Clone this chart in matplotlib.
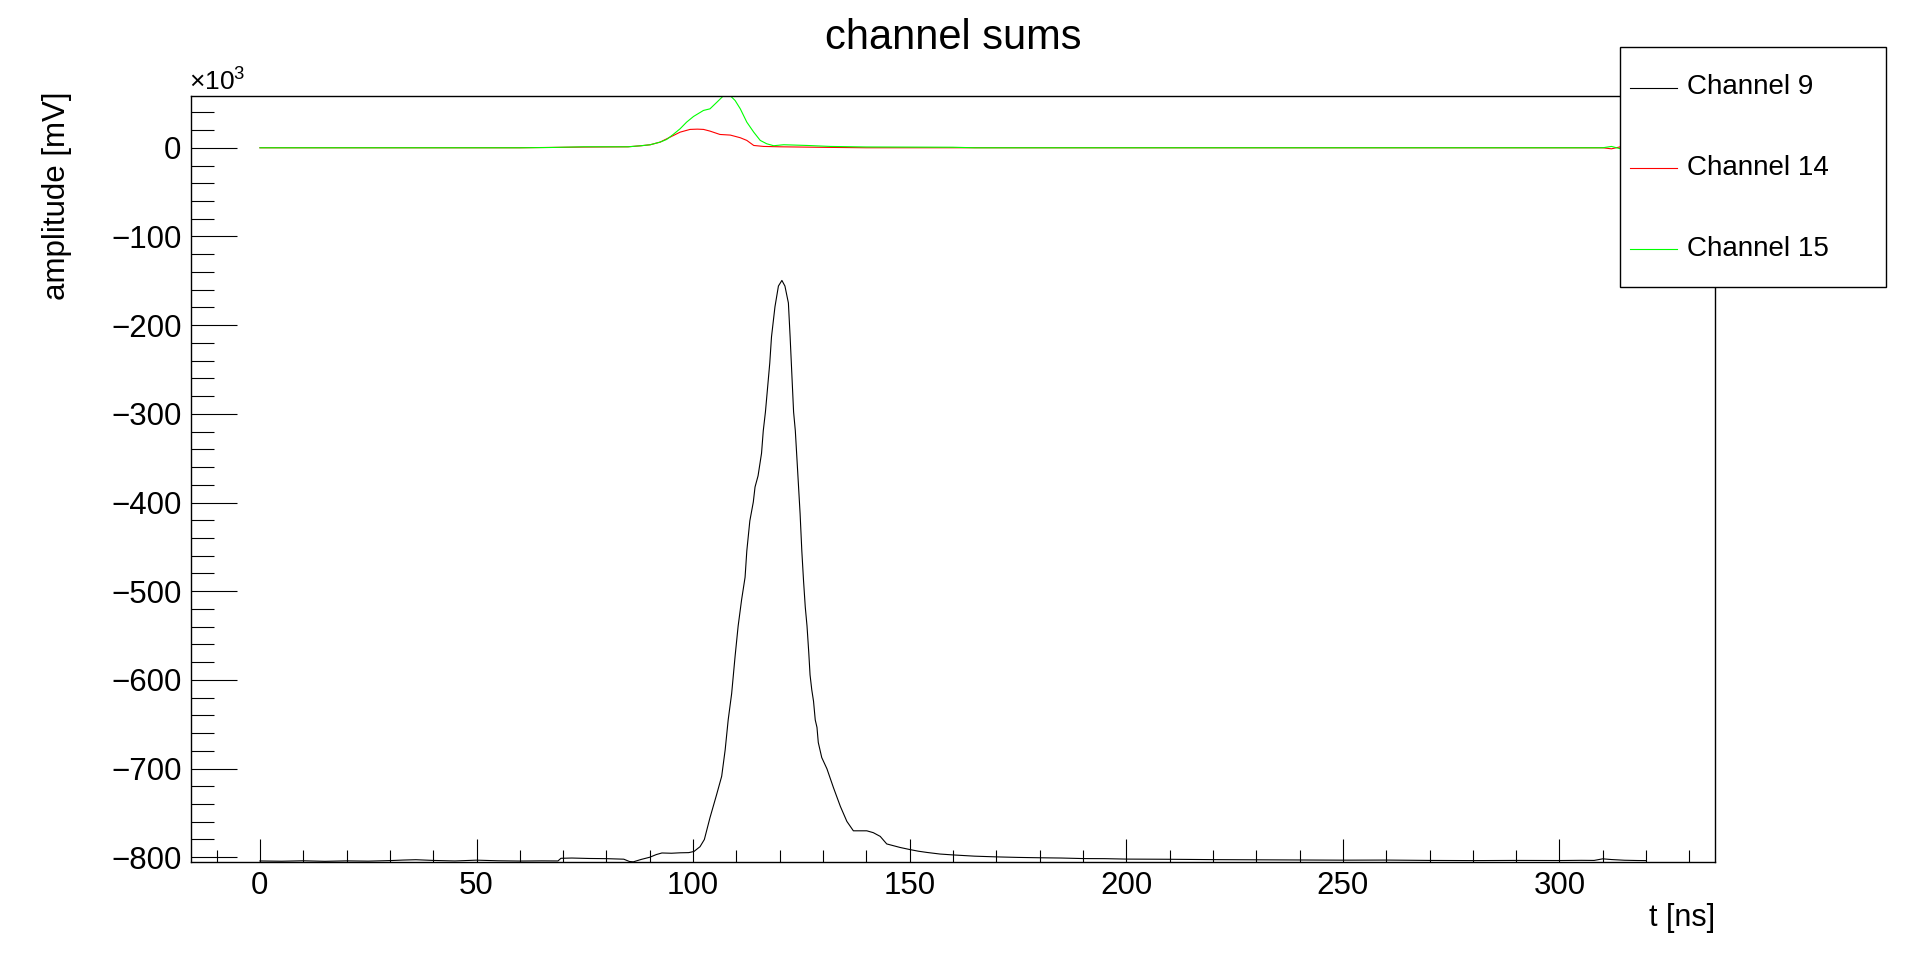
import matplotlib
matplotlib.use('Agg')
import matplotlib.pyplot as plt
from matplotlib.lines import Line2D
from matplotlib.patches import Rectangle
from matplotlib.ticker import MultipleLocator

plt.rcParams['font.family'] = ['Liberation Sans', 'DejaVu Sans']
plt.rcParams['mathtext.fontset'] = 'custom'
plt.rcParams['mathtext.rm'] = 'Liberation Sans'

# amplitudes in units of 10^3 mV
ch9_t = [0, 5, 10, 15, 20, 25, 30, 33, 36, 40, 45, 50, 55, 60, 65, 68.8, 69.5, 72, 76, 80, 84,
         85.3, 86.2, 88, 90, 91.5, 92.8, 95, 97, 99, 100.2, 101.6, 102.6, 103.9, 105.4, 106.6,
         107.4, 108.1, 108.9, 109.7, 110.4, 111.2, 112.0, 112.4, 113.1, 113.9, 114.3, 115.0,
         115.8, 116.2, 116.7, 117.7, 118.1, 118.9, 119.7, 120.5, 121.2, 122.0, 122.4, 122.8,
         123.2, 123.6, 124.0, 124.3, 124.7, 125.1, 125.5, 125.9, 126.3, 126.7, 127.0, 127.4,
         127.8, 128.2, 128.6, 128.9, 129.7, 130.9, 132.4, 134.0, 135.5, 137.0, 140.1, 141.6,
         143.2, 144.7, 147.8, 150, 152, 154, 157, 160, 165, 170, 175, 180, 185, 190, 195, 200,
         210, 220, 230, 240, 250, 260, 270, 280, 290, 300, 305, 308, 310, 312, 315, 318, 320]
ch9_v = [-804.2, -804.5, -804.0, -804.6, -804.1, -804.4, -803.8, -803.2, -802.8, -803.6, -804.2,
         -803.3, -804.0, -804.3, -804.1, -804.2, -801.2, -800.9, -801.4, -801.6, -802.2,
         -804.8, -805.2, -802.5, -800.0, -797.0, -795.2, -795.5, -795.0, -794.8, -793.5,
         -788.1, -780.0, -755.4, -729.9, -708.7, -679.1, -645.2, -615.5, -573.2, -539.3,
         -509.6, -484.3, -454.6, -420.7, -399.5, -382.5, -369.9, -344.5, -319.1, -297.9,
         -242.8, -213.2, -179.3, -155.9, -149.6, -155.9, -175.0, -213.2, -255.6, -297.9,
         -319.1, -352.9, -378.4, -412.3, -454.6, -488.5, -518.1, -539.3, -569.0, -594.4,
         -611.3, -624.0, -645.2, -653.6, -670.6, -687.6, -700.3, -721.5, -742.7, -759.6,
         -770.2, -770.2, -772.3, -776.5, -785.0, -789.0, -791.3, -793.2, -794.6, -796.4,
         -797.4, -798.8, -799.6, -800.2, -800.6, -800.9, -801.5, -801.6, -802.1, -802.3,
         -802.7, -802.9, -803.1, -803.3, -803.2, -803.6, -803.8, -803.6, -803.7, -803.5,
         -803.6, -801.8, -802.6, -803.4, -803.7, -803.8]

ch14_t = [0, 60, 74.8, 85, 88, 90.1, 92.4, 94.7, 97.0, 99.3, 101, 102.4, 103.9, 106.2, 108.6,
          110.9, 112.4, 114.0, 116.3, 120, 130, 140, 310, 312, 314, 320]
ch14_v = [0, 0, 0.8, 1.1, 2.3, 3.4, 6.4, 12.0, 17.6, 20.7, 21.0, 20.7, 18.8, 15.0, 14.3,
          11.3, 8.3, 2.6, 1.5, 1.1, 0.5, 0, 0, -1.2, 1.0, 0]

ch15_t = [0, 60, 67, 74.8, 85, 88, 90.1, 92.4, 93.9, 95.4, 97.0, 98.5, 100.1, 102.4, 103.9,
          105.5, 107.0, 108.6, 109.7, 110.9, 112.4, 114.0, 115.5, 117.0, 118.6, 120.9, 126.3,
          131.7, 140, 160, 165, 310, 312, 314, 316, 320]
ch15_v = [0, 0, 0.3, 1.1, 1.1, 2.3, 3.4, 6.4, 9.4, 15.0, 21.4, 28.9, 35.3, 42.1, 43.9,
          51.4, 58.6, 58.6, 53.3, 43.9, 28.9, 17.6, 8.3, 4.5, 2.3, 3.4, 2.6,
          1.5, 0.9, 0.6, 0, 0, 1.5, -1.0, 1.2, 0]

labels = ['Channel 9', 'Channel 14', 'Channel 15']
colors = ['black', '#ff0000', '#00ff00']

fig = plt.figure(figsize=(19.06, 9.58), dpi=100)
ax = fig.add_axes([0.1, 0.1, 0.8, 0.8])

for t, v, c in zip([ch9_t, ch14_t, ch15_t], [ch9_v, ch14_v, ch15_v], colors):
    ax.plot(t, v, color=c, lw=0.8)

ax.set_xlim(-16, 336)
ax.set_ylim(-805.6, 58.6)

ax.xaxis.set_major_locator(MultipleLocator(50))
ax.xaxis.set_minor_locator(MultipleLocator(10))
ax.yaxis.set_major_locator(MultipleLocator(100))
ax.yaxis.set_minor_locator(MultipleLocator(20))
ax.tick_params(which='both', direction='in', top=False, right=False, width=0.8)
ax.tick_params(axis='y', which='major', length=33, labelsize=22.5, pad=6.5)
ax.tick_params(axis='y', which='minor', length=16.5)
ax.tick_params(axis='x', which='major', length=16.5, labelsize=22.5, pad=6)
ax.tick_params(axis='x', which='minor', length=8.5)
for s in ax.spines.values():
    s.set_linewidth(1.0)

ax.set_ylabel('amplitude [mV]', fontsize=22.5, loc='top')
ax.yaxis.set_label_coords(-0.078, 1.005)
ax.set_xlabel('t [ns]', fontsize=22, loc='right')
ax.xaxis.set_label_coords(1.0, -0.053)

fig.text(0.5, 1 - 48.6 / 958, 'channel sums', ha='center', va='baseline', fontsize=30)
fig.text(189 / 1906, 1 - 91 / 958, r'$\mathregular{\times10^{3}}$', ha='left',
         va='baseline', fontsize=19)

# legend box (ROOT style)
fig.add_artist(Rectangle((1620.5 / 1906, 1 - 287 / 958), 266 / 1906, 240 / 958,
                         transform=fig.transFigure, facecolor='white', edgecolor='black',
                         lw=1.0, zorder=5))
for i, (lab, c) in enumerate(zip(labels, colors)):
    yy = 1 - (87.5 + 80.7 * i) / 958
    fig.add_artist(Line2D([1630 / 1906, 1677 / 1906], [yy, yy], transform=fig.transFigure,
                          color=c, lw=0.8, zorder=6))
    fig.text(1687 / 1906, yy, lab, ha='left', va='center', fontsize=20, zorder=6)

fig.savefig('out.png', dpi=100)
